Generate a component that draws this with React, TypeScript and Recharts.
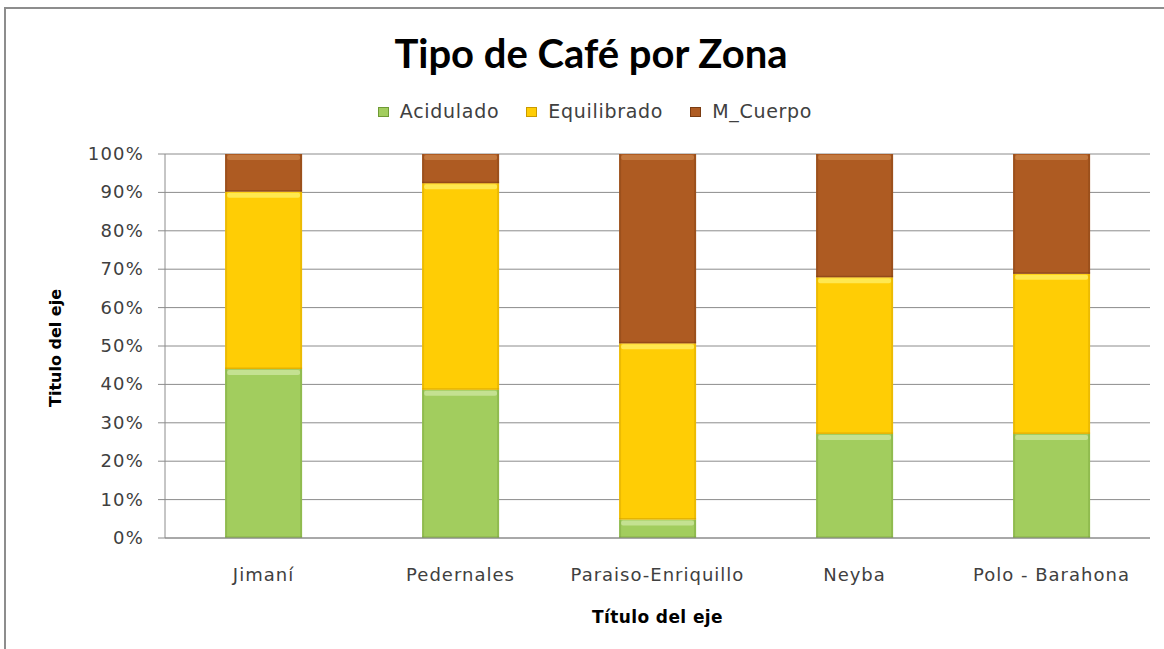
import React from 'react';
import { BarChart, Bar, XAxis, YAxis, CartesianGrid } from 'recharts';

const zones = ['Jimaní', 'Pedernales', 'Paraiso-Enriquillo', 'Neyba', 'Polo - Barahona'];
const acidulado = [44, 38.6, 4.8, 27.1, 27.1];
const equilibrado = [46.2, 53.8, 45.9, 40.8, 41.7];
const mCuerpo = [9.8, 7.6, 49.3, 32.1, 31.2];

const seriesKeys = ['acidulado', 'equilibrado', 'mCuerpo'];
const seriesNames = ['Acidulado', 'Equilibrado', 'M_Cuerpo'];
const seriesColors = ['#a2cd5e', '#ffcd05', '#ae5b22'];
const seriesLight = ['#cfe7a3', '#fff06a', '#c98148'];
const seriesDark = ['#6f9a35', '#c99a00', '#7a3c12'];

const yTicks = [0, 0.1, 0.2, 0.3, 0.4, 0.5, 0.6, 0.7, 0.8, 0.9, 1];

const data = zones.map((zone, i) => ({
  zone,
  acidulado: acidulado[i],
  equilibrado: equilibrado[i],
  mCuerpo: mCuerpo[i],
}));

const FONT = '"DejaVu Sans", sans-serif';

const bevelShape = (idx: number) => (p: any) => {
  const { x, y, width, height } = p;
  if (!height || height <= 0) return <g />;
  const band = Math.min(6, height);
  return (
    <g>
      <rect x={x} y={y} width={width} height={height} fill={seriesColors[idx]} />
      <rect x={x + 2} y={y + 1} width={width - 4} height={band - 1} rx={2} fill={seriesLight[idx]} opacity={0.75} />
      <rect x={x} y={y} width={2} height={height} fill={seriesDark[idx]} opacity={0.35} />
      <rect x={x + width - 2} y={y} width={2} height={height} fill={seriesDark[idx]} opacity={0.35} />
      <rect x={x} y={y + height - 1.5} width={width} height={1.5} fill={seriesDark[idx]} opacity={0.5} />
    </g>
  );
};

const XTick = (props: any) => {
  const { x, y, payload } = props;
  return (
    <text x={x} y={y} dy={13} textAnchor="middle" fontFamily={FONT} fontSize={18} letterSpacing={1} fill="#404040">
      {payload.value}
    </text>
  );
};

const YTick = (props: any) => {
  const { x, y, payload } = props;
  return (
    <text x={x} y={y} dy={6} textAnchor="end" fontFamily={FONT} fontSize={18} letterSpacing={1.2} fill="#404040">
      {`${Math.round(payload.value * 100)}%`}
    </text>
  );
};

export default function App() {
  return (
    <div style={{ position: 'absolute', left: 0, top: 0, width: 1164, height: 649, overflow: 'hidden', background: '#fff' }}>
      <div style={{ position: 'absolute', left: 4, top: 7, width: 1200, height: 700, border: '2px solid #8d8d8d', boxSizing: 'border-box' }} />
      <div style={{ position: 'absolute', left: 0, top: 33, width: 1182, textAlign: 'center', fontFamily: 'Lato, sans-serif', fontWeight: 700, fontSize: 40, lineHeight: '40px', color: '#000' }}>
        Tipo de Café por Zona
      </div>
      <div style={{ position: 'absolute', left: 0, top: 102, width: 1190, display: 'flex', justifyContent: 'center', fontFamily: FONT, fontSize: 19, lineHeight: '19px', color: '#404040', letterSpacing: 0.7 }}>
        {seriesNames.map((name, i) => (
          <div key={name} style={{ display: 'flex', alignItems: 'center', marginRight: i < seriesNames.length - 1 ? 27 : 0 }}>
            <span style={{ display: 'inline-block', width: 11, height: 10, background: seriesColors[i], border: `1px solid ${seriesDark[i]}`, boxSizing: 'border-box', marginRight: 11 }} />
            <span>{name}</span>
          </div>
        ))}
      </div>
      <BarChart
        width={1164}
        height={649}
        data={data}
        stackOffset="expand"
        barCategoryGap="30.5%"
        margin={{ top: 154, right: 14, bottom: 11, left: 0 }}
        style={{ position: 'absolute', left: 0, top: 0 }}
      >
        <CartesianGrid vertical={false} stroke="#8c8c8c" strokeWidth={1} />
        <XAxis
          dataKey="zone"
          height={100}
          tick={<XTick />}
          tickLine={false}
          tickSize={0}
          tickMargin={30}
          stroke="#8c8c8c"
          interval={0}
          label={{
            content: (lp: any) => {
              const vb = lp.viewBox;
              return (
                <text x={vb.x + vb.width / 2} y={vb.y + 85} textAnchor="middle" fontFamily={FONT} fontWeight={700} fontSize={17} letterSpacing={0.4} fill="#000">
                  Título del eje
                </text>
              );
            },
          }}
        />
        <YAxis
          width={165}
          domain={[0, 1]}
          ticks={yTicks}
          tick={<YTick />}
          tickSize={7}
          tickMargin={14}
          stroke="#8c8c8c"
          label={{
            content: (lp: any) => {
              const vb = lp.viewBox;
              const cx = 55;
              const cy = vb.y + vb.height / 2 + 2;
              return (
                <text x={cx} y={cy} transform={`rotate(-90 ${cx} ${cy})`} textAnchor="middle" dominantBaseline="central" fontFamily={FONT} fontWeight={700} fontSize={16} fill="#000">
                  Titulo del eje
                </text>
              );
            },
          }}
        />
        {seriesKeys.map((k, i) => (
          <Bar key={k} dataKey={k} name={seriesNames[i]} stackId="a" fill={seriesColors[i]} shape={bevelShape(i)} isAnimationActive={false} />
        ))}
      </BarChart>
    </div>
  );
}
